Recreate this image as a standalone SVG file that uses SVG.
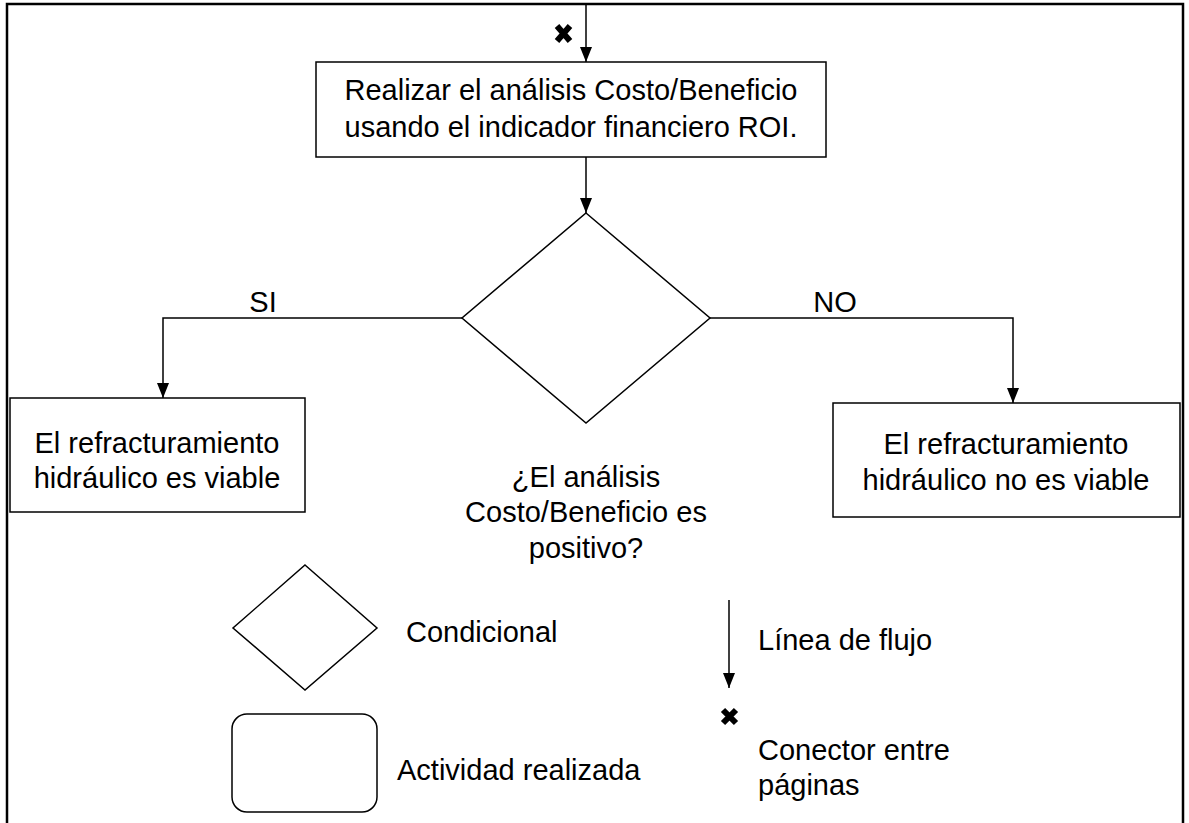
<svg xmlns="http://www.w3.org/2000/svg" width="1189" height="823" viewBox="0 0 1189 823">
<style>
text{font-family:"Liberation Sans",Arial,sans-serif;font-size:29px;fill:#000;text-anchor:middle}
.l{text-anchor:start}
.box{fill:#fff;stroke:#000;stroke-width:1.5}
.ln{fill:none;stroke:#000;stroke-width:1.5}
.x{fill:none;stroke:#000;stroke-width:6}
</style>
<rect width="1189" height="823" fill="#fff"/>
<g id="frame">
<path d="M7,823 V4 H1183 V823" fill="none" stroke="#000" stroke-width="2.5"/>
</g>
<g id="connectors">
<path class="ln" d="M586,5 V62"/>
<path d="M580,47 L592,47 L586,62 Z"/>
<path class="ln" d="M586,157 V213"/>
<path d="M580,198 L592,198 L586,213 Z"/>
<path class="ln" d="M462,318 H163 V398"/>
<path d="M157,383 L169,383 L163,398 Z"/>
<path class="ln" d="M710,318 H1013 V403"/>
<path d="M1007,388 L1019,388 L1013,403 Z"/>
<text x="263" y="312">SI</text>
<text x="835" y="312">NO</text>
</g>
<g id="connector-start">
<path class="x" d="M557,26 L570,41 M570,26 L557,41"/>
</g>
<g id="n-roi">
<rect class="box" x="316" y="62" width="510" height="95"/>
<text x="571" y="100">Realizar el análisis Costo/Beneficio</text>
<text x="571" y="137">usando el indicador financiero ROI.</text>
</g>
<g id="n-decision">
<polygon class="box" points="586,213 710,318 586,423 462,318"/>
<text x="586" y="487">¿El análisis</text>
<text x="586" y="522">Costo/Beneficio es</text>
<text x="586" y="558">positivo?</text>
</g>
<g id="n-viable">
<rect class="box" x="10" y="398" width="295" height="114"/>
<text x="157" y="453">El refracturamiento</text>
<text x="157" y="488">hidráulico es viable</text>
</g>
<g id="n-noviable">
<rect class="box" x="833" y="403" width="347" height="114"/>
<text x="1006" y="454">El refracturamiento</text>
<text x="1006" y="490">hidráulico no es viable</text>
</g>
<g id="legend">
<polygon class="box" points="305,565 377,628 305,690 233,628"/>
<text class="l" x="406" y="642">Condicional</text>
<rect class="box" x="232" y="714" width="145" height="98" rx="15"/>
<text class="l" x="397" y="780">Actividad realizada</text>
<path class="ln" d="M729,600 V688"/>
<path d="M723,673 L735,673 L729,688 Z"/>
<text class="l" x="758" y="650">Línea de flujo</text>
<path class="x" d="M723,710 L736,723 M736,710 L723,723"/>
<text class="l" x="758" y="760">Conector entre</text>
<text class="l" x="758" y="795">páginas</text>
</g>
</svg>
